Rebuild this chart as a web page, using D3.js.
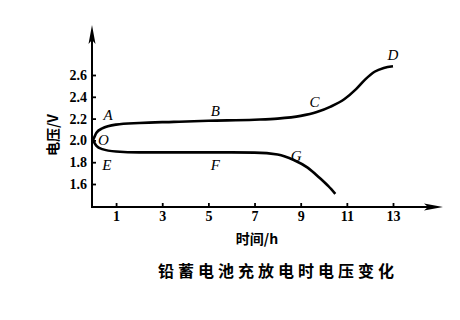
<!DOCTYPE html>
<html>
<head>
<meta charset="utf-8">
<script src="https://cdn.jsdelivr.net/npm/d3@7"></script>
<style>
  body { margin: 0; background: #fff; }
  svg { display: block; }
</style>
</head>
<body>
<svg id="chart" width="460" height="320"></svg>
<script>
// charge / discharge readings (hours, volts)
var chargeT = [0, 0.15, 0.4, 1, 2, 3.5, 5, 7, 8, 9, 9.7, 10.3, 10.9, 11.4, 11.8, 12.2, 12.6, 13];
var chargeV = [2.0, 2.07, 2.11, 2.145, 2.16, 2.17, 2.18, 2.19, 2.2, 2.225, 2.26, 2.31, 2.38, 2.47, 2.56, 2.63, 2.665, 2.68];
var dischargeT = [0, 0.15, 0.4, 1, 2, 4, 6, 7, 8, 8.7, 9.3, 9.8, 10.2, 10.5];
var dischargeV = [2.0, 1.95, 1.92, 1.898, 1.89, 1.89, 1.89, 1.888, 1.87, 1.82, 1.75, 1.66, 1.58, 1.51];
var xTicks = [1, 3, 5, 7, 9, 11, 13];
var yTicks = [1.6, 1.8, 2.0, 2.2, 2.4, 2.6];
var pointLabels = [
  {name: "A", t: 0.65, v: 2.23},
  {name: "O", t: 0.45, v: 2.0},
  {name: "E", t: 0.6, v: 1.77},
  {name: "B", t: 5.3, v: 2.27},
  {name: "C", t: 9.6, v: 2.35},
  {name: "D", t: 13.0, v: 2.78},
  {name: "F", t: 5.3, v: 1.77},
  {name: "G", t: 8.8, v: 1.86}
];

var svg = d3.select("#chart");
var serif = "'Liberation Serif', 'DejaVu Serif', serif";
var cjk = "'Noto Sans CJK SC', sans-serif";

var x = d3.scaleLinear().domain([0, 13]).range([93, 393]);
var y = d3.scaleLinear().domain([1.6, 2.6]).range([184, 75]);

var ox = 92, oy = 207;

// axis lines with arrows
svg.append("line").attr("x1", ox).attr("y1", oy + 1).attr("x2", ox).attr("y2", 36)
  .attr("stroke", "#000").attr("stroke-width", 2);
svg.append("path").attr("d", "M" + ox + ",25 L" + (ox - 3.5) + ",44 L" + ox + ",40 L" + (ox + 3.5) + ",44 Z")
  .attr("fill", "#000");
svg.append("line").attr("x1", ox - 1).attr("y1", oy).attr("x2", 432).attr("y2", oy)
  .attr("stroke", "#000").attr("stroke-width", 2);
svg.append("path").attr("d", "M443," + oy + " L424," + (oy - 3.5) + " L428," + oy + " L424," + (oy + 3.5) + " Z")
  .attr("fill", "#000");

var xAxis = svg.append("g").attr("transform", "translate(0," + oy + ")")
  .call(d3.axisBottom(x).tickValues(xTicks).tickSize(-4).tickPadding(4).tickFormat(d3.format("d")));
var yAxis = svg.append("g").attr("transform", "translate(" + ox + ",0)")
  .call(d3.axisLeft(y).tickValues(yTicks).tickSize(-4).tickPadding(5).tickFormat(d3.format(".1f")));

[xAxis, yAxis].forEach(function(g){
  g.select(".domain").remove();
  g.selectAll(".tick line").attr("stroke", "#000").attr("stroke-width", 1.8);
  g.selectAll(".tick text").attr("fill", "#000").attr("font-family", serif)
    .attr("font-weight", "bold").attr("font-size", 14);
});

// curves
var line = d3.line()
  .x(function(d){ return x(d[0]); })
  .y(function(d){ return y(d[1]); })
  .curve(d3.curveMonotoneX);

var chargeData = chargeT.map(function(t, i){ return [t, chargeV[i]]; });
var dischargeData = dischargeT.map(function(t, i){ return [t, dischargeV[i]]; });

svg.append("path").datum(chargeData).attr("d", line)
  .attr("fill", "none").attr("stroke", "#000").attr("stroke-width", 2.6);
svg.append("path").datum(dischargeData).attr("d", line)
  .attr("fill", "none").attr("stroke", "#000").attr("stroke-width", 2.6);

// point letters
svg.selectAll(".pt").data(pointLabels).enter().append("text")
  .attr("class", "pt")
  .attr("x", function(d){ return x(d.t); })
  .attr("y", function(d){ return y(d.v); })
  .attr("text-anchor", "middle").attr("dominant-baseline", "central")
  .attr("font-family", serif).attr("font-style", "italic").attr("font-size", 15)
  .text(function(d){ return d.name; });

// axis titles
svg.append("text").attr("transform", "translate(52,135) rotate(-90)")
  .attr("text-anchor", "middle").attr("dominant-baseline", "central")
  .attr("font-family", cjk).attr("font-weight", "bold").attr("font-size", 14).text("电压/V");
svg.append("text").attr("x", 257).attr("y", 238)
  .attr("text-anchor", "middle").attr("dominant-baseline", "central")
  .attr("font-family", cjk).attr("font-weight", "bold").attr("font-size", 14).text("时间/h");

svg.append("text").attr("x", 278).attr("y", 270)
  .attr("text-anchor", "middle").attr("dominant-baseline", "central")
  .attr("font-family", cjk).attr("font-weight", "bold").attr("font-size", 16)
  .attr("letter-spacing", 4).text("铅蓄电池充放电时电压变化");
</script>
</body>
</html>
